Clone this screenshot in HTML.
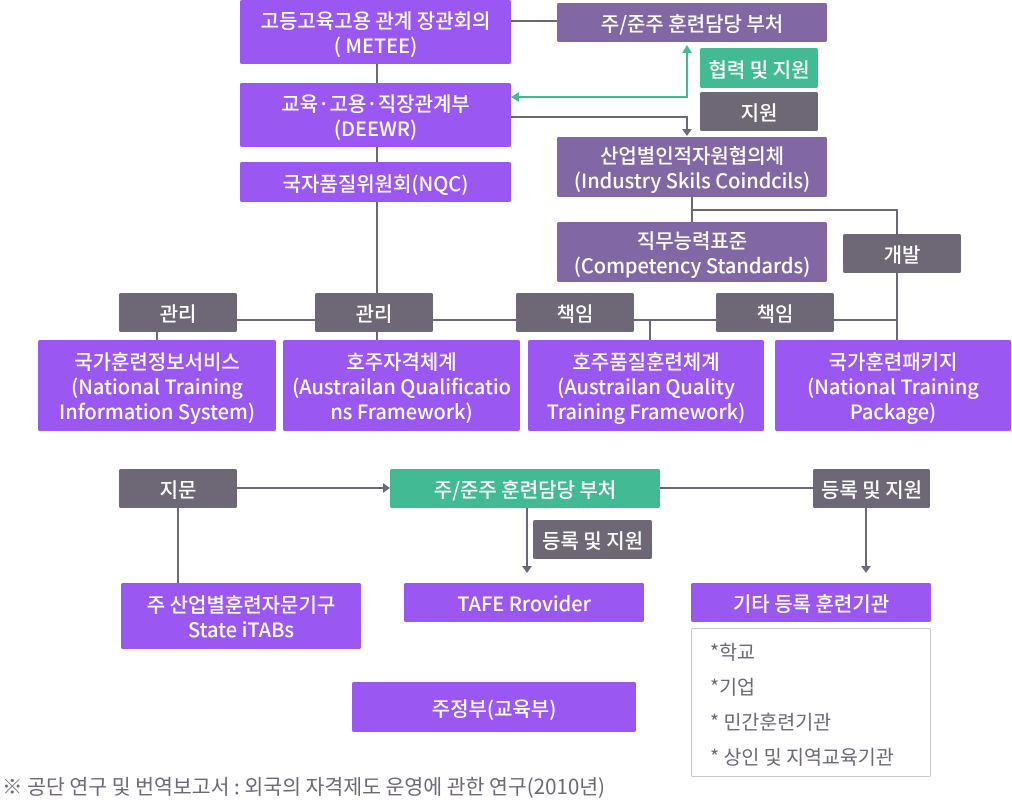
<!DOCTYPE html>
<html><head><meta charset="utf-8"><style>
body{margin:0;width:1012px;height:798px;background:#fff;position:relative;overflow:hidden;font-family:"Noto Sans CJK KR","Liberation Sans",sans-serif}
.b{position:absolute;display:flex;align-items:center;justify-content:center;text-align:center;color:#fff;font-size:20px;font-weight:500;line-height:25px;border-radius:2px;box-sizing:border-box;white-space:nowrap}
.p{background:#9b57f2}.m{background:#8267a5}.g{background:#6e6876}.t{background:#42bb95}
svg{position:absolute;left:0;top:0}
</style></head><body>
<svg width="1012" height="798">
<g stroke="#6e6876" stroke-width="2" fill="none">
<line x1="377" y1="64" x2="377" y2="340"/>
<line x1="511" y1="21" x2="557" y2="21"/>
<polyline points="511,117 687,117 687,130"/>
<line x1="692" y1="197" x2="692" y2="222"/>
<polyline points="692,210 897,210 897,340"/>
<line x1="237" y1="320" x2="897" y2="320"/>
<line x1="157" y1="320" x2="157" y2="340"/>
<line x1="650" y1="320" x2="650" y2="340"/>
<line x1="237" y1="488" x2="384" y2="488"/>
<line x1="660" y1="488" x2="813" y2="488"/>
<line x1="178" y1="508" x2="178" y2="583"/>
<line x1="527" y1="508" x2="527" y2="568"/>
<line x1="866" y1="508" x2="866" y2="568"/>
</g>
<polyline points="687,52 687,97 518,97" stroke="#42bb95" stroke-width="2" fill="none"/>
<polygon points="687,45 682,53 692,53" fill="#42bb95"/>
<polygon points="511,97 519,92 519,102" fill="#42bb95"/>
<g fill="#6e6876">
<polygon points="682,129 692,129 687,136"/>
<polygon points="383,483 383,493 390,488"/>
<polygon points="522,566 532,566 527,573"/>
<polygon points="861,566 871,566 866,573"/>
</g>
</svg>
<div class="b p" style="left:240px;top:0;width:271px;height:64px">고등고육고용 관계 장관회의<br>( METEE)</div>
<div class="b m" style="left:557px;top:3px;width:270px;height:39px">주/준주 훈련담당 부처</div>
<div class="b t" style="left:700px;top:48px;width:118px;height:40px">협력 및 지원</div>
<div class="b g" style="left:700px;top:92px;width:118px;height:39px">지원</div>
<div class="b p" style="left:240px;top:83px;width:271px;height:64px">교육·고용·직장관계부<br>(DEEWR)</div>
<div class="b m" style="left:557px;top:137px;width:270px;height:60px">산업별인적자원협의체<br>(Industry Skils Coindcils)</div>
<div class="b p" style="left:240px;top:162px;width:271px;height:40px">국자품질위원회(NQC)</div>
<div class="b m" style="left:557px;top:222px;width:270px;height:60px">직무능력표준<br>(Competency Standards)</div>
<div class="b g" style="left:843px;top:234px;width:118px;height:39px">개발</div>
<div class="b g" style="left:119px;top:293px;width:118px;height:39px">관리</div>
<div class="b g" style="left:315px;top:293px;width:118px;height:39px">관리</div>
<div class="b g" style="left:516px;top:293px;width:118px;height:39px">책임</div>
<div class="b g" style="left:716px;top:293px;width:118px;height:39px">책임</div>
<div class="b p" style="left:38px;top:340px;width:238px;height:91px">국가훈련정보서비스<br>(National Training<br>Information System)</div>
<div class="b p" style="left:283px;top:340px;width:237px;height:91px">호주자격체계<br>(Austrailan Qualificatio<br>ns Framework)</div>
<div class="b p" style="left:528px;top:340px;width:236px;height:91px">호주품질훈련체계<br>(Austrailan Quality<br>Training Framework)</div>
<div class="b p" style="left:775px;top:340px;width:236px;height:91px">국가훈련패키지<br>(National Training<br>Package)</div>
<div class="b g" style="left:119px;top:469px;width:118px;height:39px">지문</div>
<div class="b t" style="left:390px;top:469px;width:270px;height:39px">주/준주 훈련담당 부처</div>
<div class="b g" style="left:813px;top:469px;width:117px;height:39px">등록 및 지원</div>
<div class="b g" style="left:533px;top:520px;width:119px;height:39px">등록 및 지원</div>
<div class="b p" style="left:121px;top:583px;width:240px;height:66px">주 산업별훈련자문기구<br>State iTABs</div>
<div class="b p" style="left:404px;top:583px;width:240px;height:39px">TAFE Rrovider</div>
<div class="b p" style="left:691px;top:583px;width:240px;height:39px">기타 등록 훈련기관</div>
<div style="position:absolute;left:691px;top:628px;width:240px;height:149px;border:1px solid #c8c8c8;border-radius:2px;box-sizing:border-box;color:#6e6876;font-size:19.5px;line-height:35px;padding:4px 0 0 18px;white-space:nowrap">*학교<br>*기업<br>* 민간훈련기관<br>* 상인 및 지역교육기관</div>
<div class="b p" style="left:352px;top:682px;width:284px;height:50px">주정부(교육부)</div>
<div style="position:absolute;left:2px;top:771px;font-size:20.5px;color:#6e6876;line-height:28px;white-space:nowrap">※ 공단 연구 및 번역보고서 : 외국의 자격제도 운영에 관한 연구(2010년)</div>
</body></html>
